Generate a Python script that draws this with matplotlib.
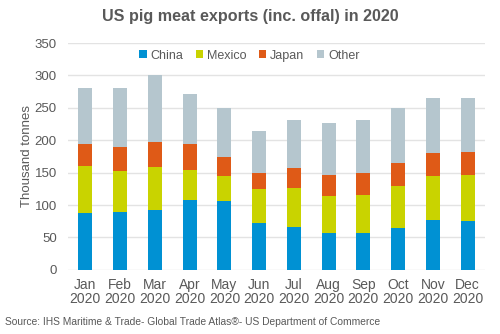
import matplotlib
matplotlib.use("Agg")
import matplotlib.pyplot as plt
import numpy as np

plt.rcParams['font.family'] = ['Liberation Sans', 'DejaVu Sans']

months = ["Jan\n2020", "Feb\n2020", "Mar\n2020", "Apr\n2020", "May\n2020", "Jun\n2020",
          "Jul\n2020", "Aug\n2020", "Sep\n2020", "Oct\n2020", "Nov\n2020", "Dec\n2020"]
# cumulative tops
china_top = [88, 89, 92, 108, 106, 72, 66, 57, 57, 65, 77, 75]
mexico_top = [161, 153, 158, 154, 145, 125, 127, 114, 115, 129, 145, 147]
japan_top = [195, 190, 198, 195, 174, 149, 157, 146, 149, 165, 181, 182]
total_top = [281, 280, 300, 272, 250, 215, 232, 226, 231, 250, 266, 266]

china = np.array(china_top)
mexico = np.array(mexico_top) - np.array(china_top)
japan = np.array(japan_top) - np.array(mexico_top)
other = np.array(total_top) - np.array(japan_top)

series = [("China", china, "#0091D3"), ("Mexico", mexico, "#C9D300"),
          ("Japan", japan, "#DF5A17"), ("Other", other, "#B5C6CE")]

fig = plt.figure(figsize=(5.0, 3.34), dpi=100)
ax = fig.add_axes([0.136, 0.192, 0.834, 0.679])

x = np.arange(len(months))
bottom = np.zeros(len(months))
for name, vals, col in series:
    ax.bar(x, vals, bottom=bottom, width=0.4, color=col, label=name, zorder=3,
           edgecolor='none')
    bottom = bottom + vals

txt = '#595959'
ax.set_ylim(0, 350)
ax.set_xlim(-0.5, len(months) - 0.5)
ax.set_yticks(np.arange(0, 351, 50))
ax.set_xticks(x)
ax.set_xticklabels(months, fontsize=10, color=txt, linespacing=1.0)
ax.tick_params(axis='y', labelsize=9.5, colors=txt, length=0, pad=8)
ax.tick_params(axis='x', length=0, pad=6)
ax.grid(axis='y', color='#E3E3E3', linewidth=1, zorder=0)
for s in ax.spines.values():
    s.set_visible(False)
ax.set_ylabel("Thousand tonnes", fontsize=9.5, color=txt, labelpad=1)

leg = ax.legend(loc='upper center', bbox_to_anchor=(0.435, 1.02), ncol=4, frameon=False,
                fontsize=9, handlelength=0.6, handleheight=0.6, handletextpad=0.3,
                columnspacing=1.0, labelcolor=txt)

fig.text(0.5, 0.95, "US pig meat exports (inc. offal) in 2020", ha='center', va='center',
         fontsize=11.6, fontweight='bold', color=txt)
fig.text(0.01, 0.035, "Source: IHS Maritime & Trade- Global Trade Atlas®- US Department of Commerce",
         ha='left', va='center', fontsize=7.4, color=txt)

fig.savefig("out.png", dpi=100)
